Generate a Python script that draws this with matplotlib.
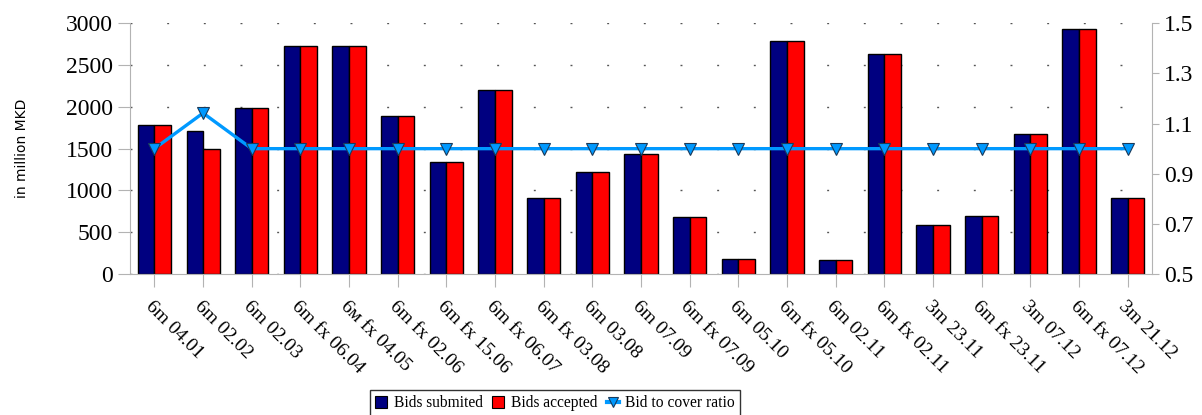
import numpy as np
import matplotlib.pyplot as plt
from matplotlib.patches import Patch
from matplotlib.lines import Line2D

auctions = ['6m 04.01', '6m 02.02', '6m 02.03', '6m fx 06.04', '6м fx 04.05',
            '6m fx 02.06', '6m fx 15.06', '6m fx 06.07', '6m fx 03.08', '6m 03.08',
            '6m 07.09', '6m fx 07.09', '6m 05.10', '6m fx 05.10', '6m 02.11',
            '6m fx 02.11', '3m 23.11', '6m fx 23.11', '3m 07.12', '6m fx 07.12',
            '3m 21.12']
submitted = [1780, 1713, 1985, 2725, 2725, 1890, 1336, 2202, 906, 1225, 1436,
             678, 180, 2792, 172, 2633, 590, 694, 1679, 2932, 906]
accepted = [1780, 1500, 1985, 2725, 2725, 1890, 1336, 2202, 906, 1225, 1436,
            678, 180, 2792, 172, 2633, 590, 694, 1679, 2932, 906]
ratio = [1.0, 1.142, 1.0, 1.0, 1.0, 1.0, 1.0, 1.0, 1.0, 1.0, 1.0,
         1.0, 1.0, 1.0, 1.0, 1.0, 1.0, 1.0, 1.0, 1.0, 1.0]

serif = ['Liberation Serif', 'DejaVu Serif']
gray = '#b3b3b3'
navy = '#000080'
red = '#ff0000'
blue = '#0099ff'

fig = plt.figure(figsize=(12.02, 4.15), dpi=100)
ax = fig.add_axes([0.1082, 0.3398, 0.8502, 0.6040])

x = np.arange(len(auctions))
w = 0.34
ax.bar(x - w / 2, submitted, w, color=navy, edgecolor='black', linewidth=1, zorder=2)
ax.bar(x + w / 2, accepted, w, color=red, edgecolor='black', linewidth=1, zorder=2)

ax.set_xlim(-0.5, len(auctions) - 0.5)
ax.set_ylim(0, 3000)
ax.set_yticks(np.arange(0, 3001, 500))
ax.yaxis.grid(True, color='#555555', linewidth=1, linestyle=(0, (1.4, 25)), zorder=0)
ax.set_axisbelow(True)

ax.set_xticks(x)
ax.set_xticklabels(auctions, rotation=-45, ha='left', va='top',
                   rotation_mode='anchor', family=serif, fontsize=14)
ax.tick_params(axis='x', length=9, color=gray, pad=8)
ax.tick_params(axis='y', length=9, color=gray, labelsize=17)
for lab in ax.get_yticklabels():
    lab.set_family(serif)

for side in ['top', 'right']:
    ax.spines[side].set_visible(False)
for side in ['left', 'bottom']:
    ax.spines[side].set_color(gray)

ax.set_ylabel('in million MKD', fontsize=10, family='DejaVu Sans', labelpad=26)

ax2 = ax.twinx()
ax2.plot(x, ratio, color=blue, linewidth=2.4, marker='v', markersize=9,
         markerfacecolor=blue, markeredgecolor='#1a3a5a', markeredgewidth=0.8, zorder=3)
ax2.set_ylim(0.5, 1.5)
ax2.set_yticks([0.5, 0.7, 0.9, 1.1, 1.3, 1.5])
ax2.tick_params(axis='y', length=5, color=gray, labelsize=17)
for lab in ax2.get_yticklabels():
    lab.set_family(serif)
for side in ['top', 'left', 'bottom']:
    ax2.spines[side].set_visible(False)
ax2.spines['right'].set_color(gray)

handles = [Patch(facecolor=navy, edgecolor='black', linewidth=0.8),
           Patch(facecolor=red, edgecolor='black', linewidth=0.8),
           Line2D([], [], color=blue, linewidth=3, marker='v', markersize=7,
                  markerfacecolor=blue, markeredgecolor='#1a3a5a', markeredgewidth=0.8)]
leg = fig.legend(handles, ['Bids submited', 'Bids accepted', 'Bid to cover ratio'],
                 loc='upper center', bbox_to_anchor=(555 / 1202, 25 / 415), ncol=3,
                 prop={'family': serif, 'size': 11.2}, frameon=True, fancybox=False,
                 edgecolor='black', handlelength=0.8, handleheight=0.8,
                 handletextpad=0.4, columnspacing=0.6, borderpad=0.35,
                 borderaxespad=0)
leg.get_frame().set_linewidth(1)

fig.savefig('out.png', dpi=100)
